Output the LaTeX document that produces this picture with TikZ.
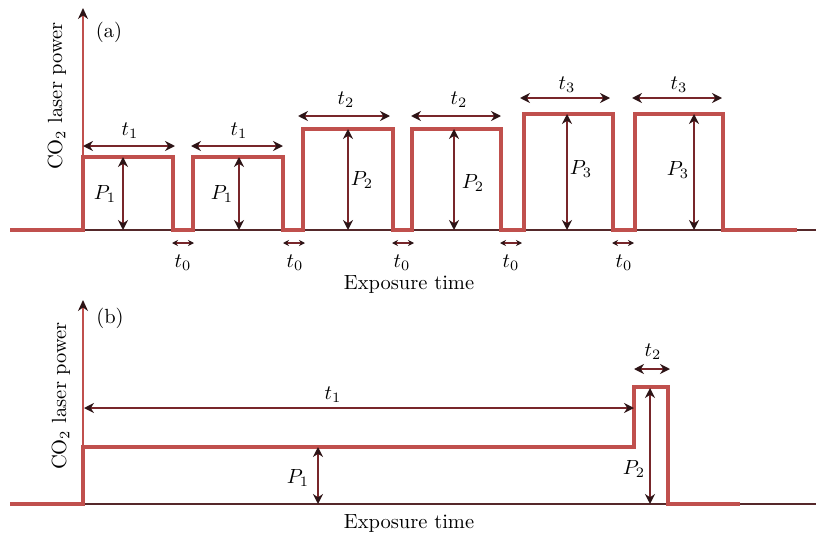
\documentclass[tikz,border=0pt]{standalone}
\usetikzlibrary{arrows.meta}
\definecolor{sig}{RGB}{192,80,77}
\definecolor{arr}{RGB}{120,38,42}
\definecolor{ahead}{RGB}{45,20,22}
\definecolor{axl}{RGB}{85,40,42}
\begin{document}
\begin{tikzpicture}[x=1pt,y=-1pt,
  signal/.style={draw=sig,line width=3.4pt,line join=miter},
  yaxis/.style={draw=sig,line width=2.4pt,-{Stealth[length=11pt,width=10pt,color=ahead]}},
  xaxis/.style={draw=axl,line width=1.3pt},
  dim/.style={draw=arr,line width=2pt,{Stealth[length=10pt,width=10pt,color=ahead]}-{Stealth[length=10pt,width=10pt,color=ahead]}},
  smalldim/.style={draw=arr,line width=1.6pt,{Stealth[length=6pt,width=6pt,color=ahead]}-{Stealth[length=6pt,width=6pt,color=ahead]}},
  lbl/.style={inner sep=0pt,scale=2.05,font=\fontsize{10}{12}\selectfont},
]
\useasboundingbox (0,0) rectangle (816,538);

% ---------------- panel (a) ----------------
\coordinate (aO) at (83,230);
\coordinate (aTop) at (83,8);
\coordinate (aEnd) at (816,230);
\draw[xaxis] (aO) -- (aEnd);
\draw[yaxis] (aO) -- (aTop);
\draw[signal] (10,230) -- (83,230) -- (83,157) -- (173,157) -- (173,230) -- (193,230)
  -- (193,157) -- (283,157) -- (283,230) -- (303,230) -- (303,129) -- (393,129)
  -- (393,230) -- (412,230) -- (412,129) -- (501,129) -- (501,230) -- (524,230)
  -- (524,114) -- (613,114) -- (613,230) -- (635,230) -- (635,114) -- (723,114)
  -- (723,230) -- (797,230);

% t dims
\coordinate (t1aL) at (83,146);  \coordinate (t1aR) at (175,146);
\coordinate (t1bL) at (191,146); \coordinate (t1bR) at (283,146);
\coordinate (t2aL) at (298,116); \coordinate (t2aR) at (390,116);
\coordinate (t2bL) at (411,116); \coordinate (t2bR) at (501,116);
\coordinate (t3aL) at (520,98);  \coordinate (t3aR) at (610,98);
\coordinate (t3bL) at (632,98);  \coordinate (t3bR) at (722,98);
\draw[dim] (t1aL) -- (t1aR);
\draw[dim] (t1bL) -- (t1bR);
\draw[dim] (t2aL) -- (t2aR);
\draw[dim] (t2bL) -- (t2bR);
\draw[dim] (t3aL) -- (t3aR);
\draw[dim] (t3bL) -- (t3bR);
\node[lbl] (lt1a) at (130,131) {$t_1$};
\node[lbl] (lt1b) at (239,131) {$t_1$};
\node[lbl] (lt2a) at (346,100) {$t_2$};
\node[lbl] (lt2b) at (459,100) {$t_2$};
\node[lbl] (lt3a) at (567,85) {$t_3$};
\node[lbl] (lt3b) at (679,85) {$t_3$};

% P dims
\coordinate (p1aT) at (123,157); \coordinate (p1aB) at (123,230);
\coordinate (p1bT) at (239,157); \coordinate (p1bB) at (239,230);
\coordinate (p2aT) at (348,129); \coordinate (p2aB) at (348,230);
\coordinate (p2bT) at (454,129); \coordinate (p2bB) at (454,230);
\coordinate (p3aT) at (567,114); \coordinate (p3aB) at (567,230);
\coordinate (p3bT) at (694,114); \coordinate (p3bB) at (694,230);
\draw[dim] (p1aT) -- (p1aB);
\draw[dim] (p1bT) -- (p1bB);
\draw[dim] (p2aT) -- (p2aB);
\draw[dim] (p2bT) -- (p2bB);
\draw[dim] (p3aT) -- (p3aB);
\draw[dim] (p3bT) -- (p3bB);
\node[lbl] (lp1a) at (105,194) {$P_1$};
\node[lbl] (lp1b) at (222,194) {$P_1$};
\node[lbl] (lp2a) at (362,180) {$P_2$};
\node[lbl] (lp2b) at (473,183) {$P_2$};
\node[lbl] (lp3a) at (581,169) {$P_3$};
\node[lbl] (lp3b) at (678,170) {$P_3$};

% t0 dims
\coordinate (t0aL) at (172,243); \coordinate (t0aR) at (194,243);
\coordinate (t0bL) at (283,243); \coordinate (t0bR) at (305,243);
\coordinate (t0cL) at (392,243); \coordinate (t0cR) at (414,243);
\coordinate (t0dL) at (500,243); \coordinate (t0dR) at (522,243);
\coordinate (t0eL) at (612,243); \coordinate (t0eR) at (634,243);
\draw[smalldim] (t0aL) -- (t0aR);
\draw[smalldim] (t0bL) -- (t0bR);
\draw[smalldim] (t0cL) -- (t0cR);
\draw[smalldim] (t0dL) -- (t0dR);
\draw[smalldim] (t0eL) -- (t0eR);
\node[lbl] (lt0a) at (183,263) {$t_0$};
\node[lbl] (lt0b) at (295,263) {$t_0$};
\node[lbl] (lt0c) at (402,263) {$t_0$};
\node[lbl] (lt0d) at (511,263) {$t_0$};
\node[lbl] (lt0e) at (624,263) {$t_0$};

\node[lbl] (tagA) at (109,32) {(a)};
\node[lbl] (xlabA) at (409,285) {Exposure time};
\node[lbl,rotate=90] (ylabA) at (57,96) {CO$_2$ laser power};

% ---------------- panel (b) ----------------
\coordinate (bO) at (83,504);
\coordinate (bTop) at (83,300);
\coordinate (bEnd) at (816,504);
\draw[xaxis] (bO) -- (bEnd);
\draw[yaxis] (bO) -- (bTop);
\draw[signal] (10,504) -- (83,504) -- (83,447) -- (634,447) -- (634,387) -- (668,387)
  -- (668,504) -- (740,504);

\coordinate (bt1L) at (84,408); \coordinate (bt1R) at (634,408);
\coordinate (bt2L) at (634,369); \coordinate (bt2R) at (670,369);
\coordinate (bp1T) at (318,447); \coordinate (bp1B) at (318,504);
\coordinate (bp2T) at (650,388); \coordinate (bp2B) at (650,504);
\draw[dim] (bt1L) -- (bt1R);
\draw[dim] (bt2L) -- (bt2R);
\draw[dim] (bp1T) -- (bp1B);
\draw[dim] (bp2T) -- (bp2B);
\node[lbl] (lbt1) at (333,395) {$t_1$};
\node[lbl] (lbt2) at (653,352) {$t_2$};
\node[lbl] (lbp1) at (298,478) {$P_1$};
\node[lbl] (lbp2) at (634,469) {$P_2$};

\node[lbl] (tagB) at (110,318) {(b)};
\node[lbl] (xlabB) at (409,524) {Exposure time};
\node[lbl,rotate=90] (ylabB) at (61,396) {CO$_2$ laser power};
\end{tikzpicture}
\end{document}
